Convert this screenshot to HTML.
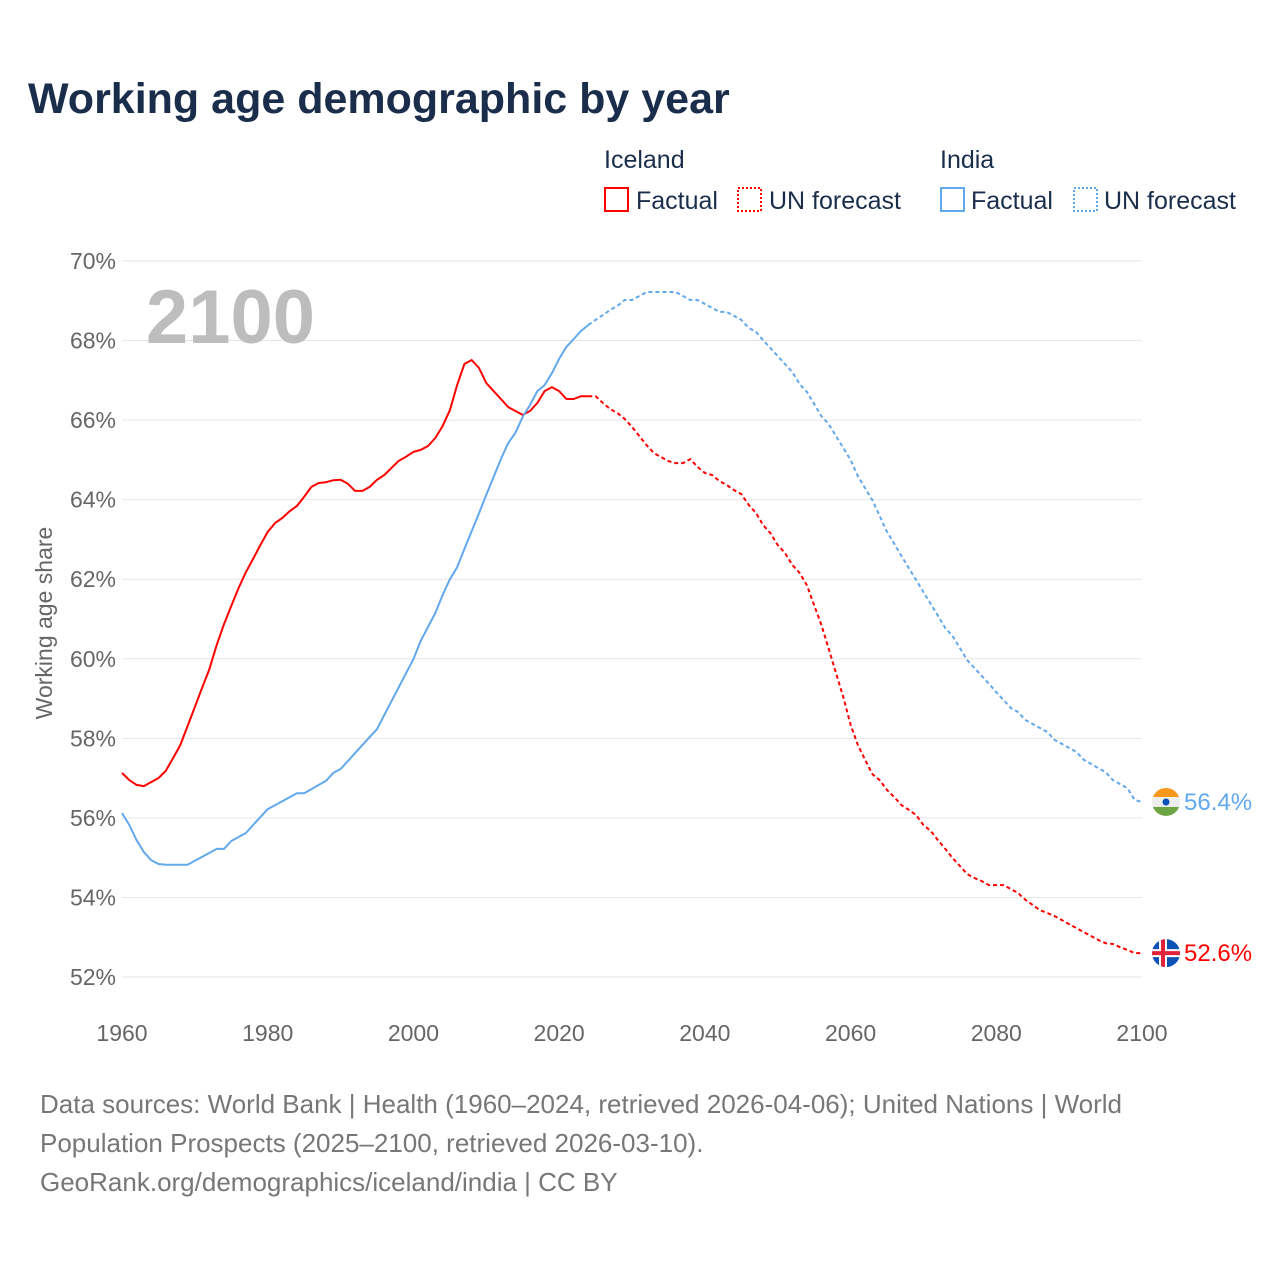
<!DOCTYPE html>
<html><head><meta charset="utf-8"><style>
body{margin:0;background:#fff;width:1280px;height:1280px;overflow:hidden;font-family:"Liberation Sans",sans-serif}
svg text{font-family:"Liberation Sans",sans-serif}
</style></head><body>
<svg id="chart" width="1280" height="1280" viewBox="0 0 1280 1280">
<text x="28" y="113" font-size="43" font-weight="bold" fill="#1a2e4c">Working age demographic by year</text>
<g>
<text x="604" y="168" font-size="25" fill="#1a2e4c">Iceland</text>
<text x="940" y="168" font-size="25" fill="#1a2e4c">India</text>
<g><rect x="605" y="188" width="23" height="23" fill="none" stroke="#ff0000" stroke-width="2"/><text x="636" y="209" font-size="25" fill="#1a2e4c">Factual</text></g>
<g><rect x="738" y="188" width="23" height="23" fill="none" stroke="#ff0000" stroke-width="2" stroke-dasharray="2,2"/><text x="769" y="209" font-size="25" fill="#1a2e4c">UN forecast</text></g>
<g><rect x="941" y="188" width="23" height="23" fill="none" stroke="#62a8ec" stroke-width="2"/><text x="971" y="209" font-size="25" fill="#1a2e4c">Factual</text></g>
<g><rect x="1074" y="188" width="23" height="23" fill="none" stroke="#62a8ec" stroke-width="2" stroke-dasharray="2,2"/><text x="1104" y="209" font-size="25" fill="#1a2e4c">UN forecast</text></g>
</g>
<g id="grid"></g>
<g id="yticks"></g>
<g id="xticks"></g>
<text x="315" y="343" font-size="76" font-weight="bold" fill="#bdbdbd" text-anchor="end">2100</text>
<text transform="translate(52,623) rotate(-90)" font-size="23" fill="#666" text-anchor="middle">Working age share</text>
<g id="series"></g>
<g>
<text x="40" y="1113" font-size="26" fill="#777">Data sources: World Bank | Health (1960–2024, retrieved 2026-04-06); United Nations | World</text>
<text x="40" y="1152" font-size="26" fill="#777">Population Prospects (2025–2100, retrieved 2026-03-10).</text>
<text x="40" y="1191" font-size="26" fill="#777">GeoRank.org/demographics/iceland/india | CC BY</text>
</g>
</svg>
<script>
const yTicks=[52,54,56,58,60,62,64,66,68,70];
const xTicks=[1960,1980,2000,2020,2040,2060,2080,2100];
const startYear=1960;
const forecastStart=2025;
const icelandFactual=[57.13,56.95,56.83,56.8,56.9,57.0,57.18,57.5,57.83,58.31,
58.79,59.27,59.74,60.35,60.87,61.33,61.78,62.18,62.51,62.86,
63.19,63.41,63.54,63.71,63.84,64.07,64.32,64.42,64.44,64.49,
64.5,64.4,64.22,64.22,64.32,64.5,64.62,64.8,64.98,65.08,
65.2,65.25,65.35,65.55,65.85,66.25,66.88,67.41,67.51,67.31,
66.93,66.73,66.53,66.33,66.23,66.13,66.23,66.43,66.73,66.83,
66.73,66.53,66.53,66.6,66.6];
const icelandForecast=[66.6,66.43,66.28,66.18,66.03,65.83,65.6,65.37,65.17,65.07,
64.97,64.92,64.92,65.02,64.82,64.67,64.62,64.47,64.37,64.24,
64.14,63.87,63.67,63.36,63.16,62.86,62.66,62.36,62.16,61.85,
61.35,60.85,60.25,59.64,59.04,58.34,57.83,57.46,57.1,56.95,
56.7,56.52,56.32,56.2,56.07,55.82,55.67,55.44,55.22,54.99,
54.79,54.59,54.49,54.41,54.31,54.31,54.31,54.21,54.11,53.94,
53.81,53.68,53.61,53.53,53.43,53.33,53.23,53.13,53.03,52.93,
52.85,52.83,52.75,52.68,52.6,52.6];
const indiaFactual=[56.12,55.82,55.44,55.14,54.94,54.84,54.82,54.82,54.82,54.82,
54.92,55.02,55.12,55.22,55.22,55.42,55.52,55.62,55.82,56.02,
56.22,56.32,56.42,56.52,56.62,56.62,56.72,56.83,56.93,57.13,
57.23,57.43,57.63,57.83,58.03,58.23,58.59,58.94,59.29,59.64,
59.99,60.45,60.8,61.15,61.6,62.0,62.3,62.76,63.21,63.66,
64.12,64.57,65.02,65.42,65.68,66.08,66.38,66.73,66.88,67.18,
67.54,67.84,68.04,68.24,68.39];
const indiaForecast=[68.52,68.64,68.77,68.87,69.02,69.02,69.12,69.22,69.22,69.22,
69.22,69.22,69.12,69.02,69.02,68.92,68.82,68.72,68.72,68.62,
68.52,68.32,68.22,68.01,67.81,67.61,67.41,67.21,66.91,66.71,
66.41,66.1,65.9,65.6,65.3,65.0,64.59,64.29,63.99,63.59,
63.19,62.89,62.58,62.28,61.98,61.68,61.38,61.08,60.77,60.57,
60.27,59.97,59.77,59.57,59.37,59.16,58.96,58.76,58.66,58.46,
58.36,58.26,58.16,57.96,57.86,57.76,57.66,57.46,57.36,57.25,
57.15,56.95,56.85,56.75,56.45,56.4];
const endLabels=["52.6%","56.4%"];

const NS="http://www.w3.org/2000/svg";
const X0=122,X1=1142,Y0=977,Y1=261;
const xs=y=>X0+(y-1960)/(2100-1960)*(X1-X0);
const ys=v=>Y0-(v-52)/(70-52)*(Y0-Y1);
function mk(tag,attrs,parent){const e=document.createElementNS(NS,tag);for(const k in attrs)e.setAttribute(k,attrs[k]);parent.appendChild(e);return e;}
const grid=document.getElementById('grid'),yt=document.getElementById('yticks'),xt=document.getElementById('xticks'),ser=document.getElementById('series');
yTicks.forEach(t=>{
 const l=mk('line',{x1:X0,x2:X1,y1:ys(t),y2:ys(t),stroke:'#e6e6e6','stroke-width':1},grid);
 
 
 const tx=mk('text',{x:116,y:ys(t)+8,'font-size':23,fill:'#666','text-anchor':'end'},yt);
 tx.textContent=t+'%';
 
 
});
xTicks.forEach(t=>{
 const tx=mk('text',{x:xs(t),y:1041,'font-size':23,fill:'#666','text-anchor':'middle'},xt);
 tx.textContent=t;
 
 
});
function pts(arr,y0){return arr.map((v,i)=>xs(y0+i).toFixed(1)+','+ys(v).toFixed(1)).join(' ');}
function line(arr,y0,color,dash,name){
 const p=mk('polyline',{points:pts(arr,y0),fill:'none',stroke:color,'stroke-width':2,'stroke-linejoin':'round'},ser);
 if(dash)p.setAttribute('stroke-dasharray','4,3');
 
 
}
const lastI=icelandFactual[icelandFactual.length-1], lastN=indiaFactual[indiaFactual.length-1];
line([lastI].concat(icelandForecast),2024,'#ff0000',true,'iceland-forecast-line');
line(icelandFactual,startYear,'#ff0000',false,'iceland-factual-line');
line([lastN].concat(indiaForecast),2024,'#62a8ec',true,'india-forecast-line');
line(indiaFactual,startYear,'#62a8ec',false,'india-factual-line');
const defs=mk('defs',{},ser);
const vI=icelandForecast[icelandForecast.length-1], vN=indiaForecast[indiaForecast.length-1];
[['ic',ys(vI)],['in',ys(vN)]].forEach(([id,cy])=>{const c=mk('clipPath',{id:'clip-'+id},defs);mk('circle',{cx:1166,cy:cy,r:14},c);});
const fi=mk('g',{'clip-path':'url(#clip-ic)'},ser);


let cy=ys(vI);
mk('rect',{x:1152,y:cy-14,width:28,height:28,fill:'#0b52b5'},fi);
mk('rect',{x:1152,y:cy-4,width:28,height:8,fill:'#fff'},fi);
mk('rect',{x:1159,y:cy-14,width:8,height:28,fill:'#fff'},fi);
mk('rect',{x:1152,y:cy-2,width:28,height:4,fill:'#e0223a'},fi);
mk('rect',{x:1161,y:cy-14,width:4,height:28,fill:'#e0223a'},fi);
const fn=mk('g',{'clip-path':'url(#clip-in)'},ser);


cy=ys(vN);
mk('rect',{x:1152,y:cy-14,width:28,height:10,fill:'#f7981d'},fn);
mk('rect',{x:1152,y:cy-5,width:28,height:10,fill:'#eeeeee'},fn);
mk('rect',{x:1152,y:cy+5,width:28,height:10,fill:'#6da544'},fn);
mk('circle',{cx:1166,cy:cy,r:3.5,fill:'#0b52b5'},fn);
const t1=mk('text',{x:1184,y:ys(vI)+8,'font-size':24,fill:'#ff0000'},ser);
t1.textContent=endLabels[0];


const t2=mk('text',{x:1184,y:ys(vN)+8,'font-size':24,fill:'#62a8ec'},ser);
t2.textContent=endLabels[1];


</script>
</body></html>
